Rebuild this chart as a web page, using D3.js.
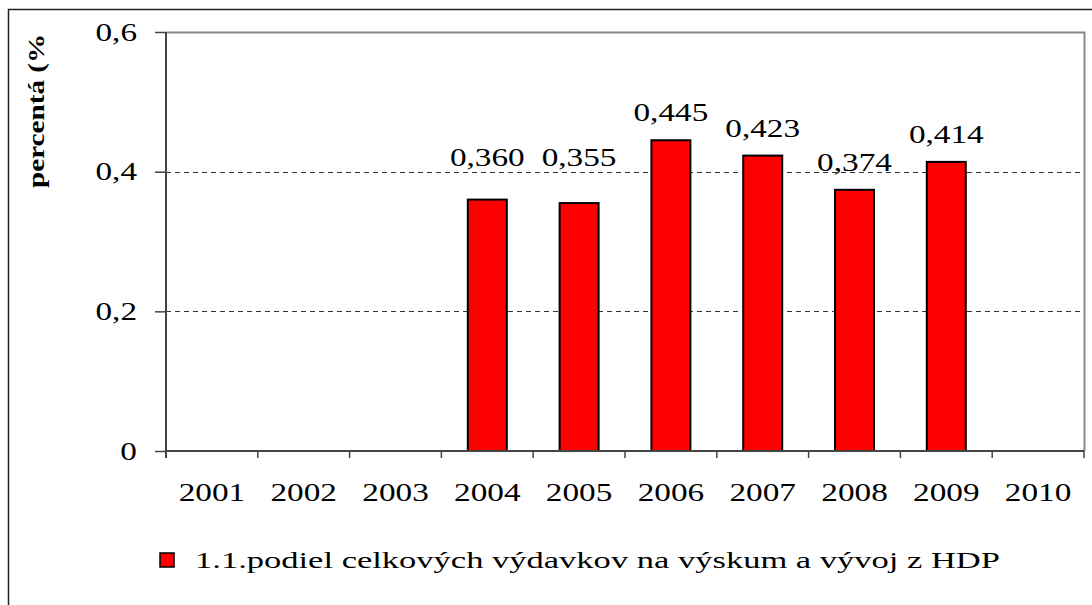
<!DOCTYPE html>
<html>
<head>
<meta charset="utf-8">
<script src="https://cdn.jsdelivr.net/npm/d3@7"></script>
<style>
body { margin: 0; background: #fff; }
</style>
</head>
<body>
<div id="chart"></div>
<script>
var years = ["2001", "2002", "2003", "2004", "2005", "2006", "2007", "2008", "2009", "2010"];
var values = [null, null, null, 0.360, 0.355, 0.445, 0.423, 0.374, 0.414, null];
var yTicks = [0, 0.2, 0.4, 0.6];
var seriesName = "1.1.podiel celkových výdavkov na výskum a vývoj z HDP";
var yTitle = "percentá (%)";

var width = 1092, height = 605;
var margin = {left: 166, right: 8, top: 32, bottom: 154};
var plotW = width - margin.left - margin.right,
plotH = height - margin.top - margin.bottom;

var serif = "'Liberation Serif', 'Times New Roman', serif";
var stretch = 1.33;

var svg = d3.select("#chart").append("svg")
.attr("width", width)
.attr("height", height);

// outer frame (only top and left visible)
svg.append("path")
.attr("d", "M8.5," + height + "V9.5H" + width)
.attr("fill", "none")
.attr("stroke", "#222")
.attr("stroke-width", 1.5);

var x = d3.scaleBand()
.domain(years)
.range([margin.left, margin.left + plotW]);

var y = d3.scaleLinear()
.domain([0, 0.6])
.range([margin.top + plotH, margin.top]);

var fmt = function(v) { return d3.format(".3f")(v).replace(".", ","); };
var fmtTick = function(v) { return v === 0 ? "0" : d3.format(".1f")(v).replace(".", ","); };

// stretch text horizontally like the original
function widen(sel) {
	sel.each(function() {
		var w = this.getComputedTextLength();
		d3.select(this).attr("textLength", w * stretch).attr("lengthAdjust", "spacingAndGlyphs");
	});
}

var g = svg.append("g");

// plot border (top and right) in gray
g.append("path")
.attr("d", "M" + margin.left + "," + (margin.top + 0.5) + "H" + (margin.left + plotW + 0.5) + "V" + (margin.top + plotH))
.attr("fill", "none")
.attr("stroke", "#888")
.attr("stroke-width", 2);

// dashed gridlines
g.selectAll(".grid")
.data(yTicks.filter(function(d) { return d > 0 && d < 0.6; }))
.enter().append("line")
.attr("class", "grid")
.attr("x1", margin.left)
.attr("x2", margin.left + plotW)
.attr("y1", function(d) { return Math.round(y(d)) + 0.5; })
.attr("y2", function(d) { return Math.round(y(d)) + 0.5; })
.attr("stroke", "#333")
.attr("stroke-dasharray", "5,4");

var barData = years.map(function(d, i) { return {year: d, v: values[i]}; })
.filter(function(d) { return d.v != null; });

// bars
var barW = 39;
g.selectAll(".bar")
.data(barData)
.enter().append("rect")
.attr("class", "bar")
.attr("x", function(d) { return x(d.year) + x.bandwidth() / 2 - barW / 2; })
.attr("y", function(d) { return y(d.v); })
.attr("width", barW)
.attr("height", function(d) { return y(0) - y(d.v); })
.attr("fill", "#ff0000")
.attr("stroke", "#000")
.attr("stroke-width", 2);

// value labels, nudged above gridlines when they would cross them
var gridYs = [y(0.2), y(0.4)];
g.selectAll(".val")
.data(barData)
.enter().append("text")
.attr("class", "val")
.attr("x", function(d) { return x(d.year) + x.bandwidth() / 2; })
.attr("y", function(d) {
	var b = y(d.v) - 19;
	gridYs.forEach(function(gy) {
		if (gy > b - 17 && gy < b - 2) b = gy - 6;
	});
	return b;
})
.attr("text-anchor", "middle")
.style("font-family", serif)
.attr("font-size", 25)
.text(function(d) { return fmt(d.v); })
.call(widen);

// axes
var axisColor = "#444";
var yAxis = svg.append("g")
.attr("transform", "translate(" + margin.left + ",0)")
.call(d3.axisLeft(y).tickValues(yTicks).tickSize(11).tickFormat(fmtTick).tickPadding(18));
yAxis.select(".domain").attr("stroke", axisColor).attr("stroke-width", 2)
.attr("d", "M0," + margin.top + "V" + (margin.top + plotH + 7));
yAxis.selectAll(".tick line").attr("stroke", axisColor).attr("stroke-width", 1.5);
yAxis.selectAll(".tick text")
.style("font-family", serif)
.attr("font-size", 25)
.attr("fill", "#000")
.attr("dy", "0.32em")
.call(widen);

var xAxis = svg.append("g")
.attr("transform", "translate(0," + (margin.top + plotH) + ")");
xAxis.append("line")
.attr("x1", margin.left).attr("x2", margin.left + plotW)
.attr("stroke", axisColor).attr("stroke-width", 2);
xAxis.selectAll(".xtick")
.data(years.concat(["end"]))
.enter().append("line")
.attr("class", "xtick")
.attr("x1", function(d, i) { return margin.left + i * x.step(); })
.attr("x2", function(d, i) { return margin.left + i * x.step(); })
.attr("y1", 0).attr("y2", 7)
.attr("stroke", axisColor).attr("stroke-width", 1.5);
xAxis.selectAll(".xlab")
.data(years)
.enter().append("text")
.attr("class", "xlab")
.attr("x", function(d) { return x(d) + x.bandwidth() / 2; })
.attr("y", 50)
.attr("text-anchor", "middle")
.style("font-family", serif)
.attr("font-size", 25)
.text(function(d) { return d; })
.call(widen);

// y axis title, clipped at the top like the original
svg.append("clipPath").attr("id", "titleClip")
.append("rect").attr("x", 0).attr("y", 35).attr("width", 100).attr("height", 300);
svg.append("g").attr("clip-path", "url(#titleClip)")
.append("text")
.attr("transform", "translate(44,188) rotate(-90)")
.style("font-family", serif)
.attr("font-size", 24)
.attr("font-weight", "bold")
.attr("textLength", 164)
.attr("lengthAdjust", "spacingAndGlyphs")
.text(yTitle);

// legend
var legend = svg.append("g").attr("transform", "translate(160,553)");
legend.append("rect")
.attr("width", 14).attr("height", 14)
.attr("fill", "#ff0000").attr("stroke", "#000").attr("stroke-width", 1.5);
legend.append("text")
.attr("x", 35).attr("y", 15)
.style("font-family", serif)
.attr("font-size", 23)
.attr("textLength", 805)
.attr("lengthAdjust", "spacingAndGlyphs")
.text(seriesName);
</script>
</body>
</html>
